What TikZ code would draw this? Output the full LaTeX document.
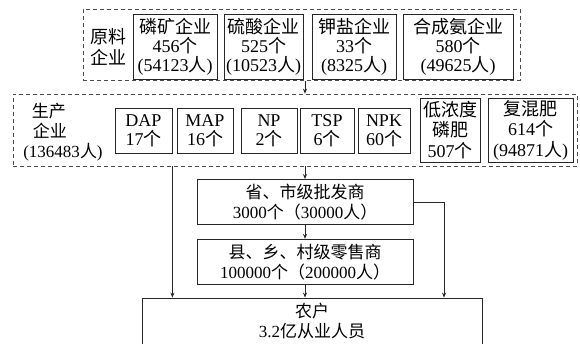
\documentclass[tikz,border=0pt]{standalone}
\usepackage{fontspec}
\setmainfont{Liberation Serif}
\newfontfamily\cjk{Noto Sans CJK SC}
\usetikzlibrary{arrows.meta}
\newcommand\zh[1]{{\cjk #1}}
\begin{document}
\begin{tikzpicture}[x=1pt,y=-1pt,
  box/.style={draw=black!85, line width=0.8pt, inner sep=0pt, align=center},
  grp/.style={draw=black!70, line width=0.7pt, dash pattern=on 4pt off 3pt, inner sep=0pt},
  lbl/.style={inner sep=0pt, align=center},
  con/.style={draw=black!85, line width=0.8pt},
  arr/.style={con, -{Stealth[length=5pt,width=4pt]}},
  fa/.style={font=\fontsize{18}{19}\selectfont},
  fc/.style={font=\fontsize{18}{20.5}\selectfont},
  fb/.style={font=\fontsize{17}{20}\selectfont}]
\useasboundingbox (0,0) rectangle (580,344);

% raw-material group
\node[grp, minimum width=437pt, minimum height=71pt] (top) at (301.5,45) {};
\node[lbl, fc] (yl) at (108,47) {\zh{原料}\\\zh{企业}};
\node[box, fa, minimum width=84pt, minimum height=65pt] (lk) at (175,46.5)
  {\zh{磷矿企业}\\456\zh{个}\\(54123\zh{人})};
\node[box, fa, minimum width=79pt, minimum height=65pt] (ls) at (263.5,46.5)
  {\zh{硫酸企业}\\525\zh{个}\\(10523\zh{人})};
\node[box, fa, minimum width=84pt, minimum height=65pt] (jy) at (354,46.5)
  {\zh{钾盐企业}\\33\zh{个}\\(8325\zh{人})};
\node[box, fa, minimum width=110pt, minimum height=65pt] (ha) at (458,46.5)
  {\zh{合成氨企业}\\580\zh{个}\\(49625\zh{人})};

% production group
\node[grp, minimum width=564pt, minimum height=72pt] (mid) at (295,130) {};
\node[lbl, font=\fontsize{17}{20}\selectfont] (sc) at (63,132)
  {\makebox[94pt]{\zh{生产}\hspace{28pt}}\\
   \makebox[94pt]{\zh{企业}\hspace{26pt}}\\
   \makebox[94pt]{(136483\zh{人})}};
\node[box, fa, minimum width=57pt, minimum height=45pt] (dap) at (143.5,130.5) {DAP\\17\zh{个}};
\node[box, fa, minimum width=56pt, minimum height=45pt] (map) at (205,130.5) {MAP\\16\zh{个}};
\node[box, fa, minimum width=56pt, minimum height=45pt] (np) at (269,130.5) {NP\\2\zh{个}};
\node[box, fa, minimum width=54pt, minimum height=45pt] (tsp) at (327,130.5) {TSP\\6\zh{个}};
\node[box, fa, minimum width=52pt, minimum height=45pt] (npk) at (384,130.5) {NPK\\60\zh{个}};
\node[box, fc, minimum width=60pt, minimum height=64pt] (ld) at (450,130) {\zh{低浓度}\\\zh{磷肥}\\507\zh{个}};
\node[box, fc, minimum width=85pt, minimum height=64pt] (fh) at (530.5,130) {\zh{复混肥}\\614\zh{个}\\(94871\zh{人})};

% distribution
\node[box, fb, minimum width=216pt, minimum height=45pt] (pf) at (305,202)
  {\zh{省、市级批发商}\\3000\zh{个（}30000\zh{人）}};
\node[box, fb, minimum width=216pt, minimum height=45.5pt] (xl) at (305,262)
  {\zh{县、乡、村级零售商}\\100000\zh{个（}200000\zh{人）}};
\node[box, fb, minimum width=340pt, minimum height=46pt] (nh) at (312,321)
  {\zh{农户}\\3.2\zh{亿从业人员}};

% connectors
\coordinate (rc) at (444,202);
\draw[arr] (top.south -| pf.center) -- (mid.north -| pf.center);
\draw[arr] (mid.south -| pf.center) -- (pf.north);
\draw[arr] (pf.south) -- (xl.north);
\draw[arr] (xl.south) -- (nh.north -| xl.south);
\draw[arr] (dap.east |- mid.south) -- (dap.east |- nh.north);
\draw[arr] (pf.east) -- (rc) -- (rc |- nh.north);
\end{tikzpicture}
\end{document}
